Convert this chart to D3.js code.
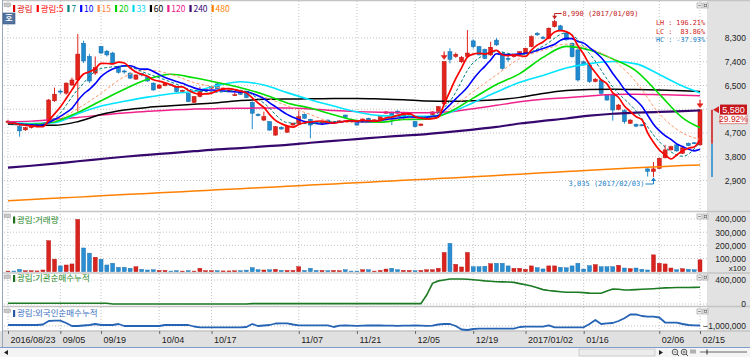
<!DOCTYPE html>
<html>
<head>
<meta charset="utf-8">
<script src="https://cdn.jsdelivr.net/npm/d3@7/dist/d3.min.js"></script>
<style>
html,body{margin:0;padding:0;background:#fff;}
svg{display:block;}
</style>
</head>
<body>
<svg id="chart" width="750" height="357"></svg>
<script>
// ---------------- DATA ----------------
const opens = [5100,5120,4940,4820,4900,4950,4990,5150,5920,6290,
6210,6520,6710,8100,7600,6970,7980,7800,7730,7220,
7050,6970,6740,6950,6830,6590,6400,6490,6550,6460,
6270,6200,5860,6080,6300,6400,6560,6350,6280,6120,
6200,6270,5860,5410,5190,5130,4620,4920,4730,5000,
5070,5410,5220,5130,5080,5190,5100,5130,5380,5220,
5130,5130,5260,5180,5150,5450,5490,5530,5360,5400,
5130,4980,5250,5400,5520,5800,7780,7600,7400,7600,
8190,7970,7870,7660,8220,7720,7530,7590,7660,7720,
7970,8480,8330,8290,8730,8760,8490,8100,7850,7400,
7280,6650,6710,6140,6140,5600,5550,5070,5030,5010,
3340,3240,3360,3760,4060,4250,3930,4310,4330,4250];
const highs = [5200,5150,5000,4930,4990,5020,5100,5990,6420,6350,
6620,6800,8450,8200,7700,7600,8000,7850,7780,7250,
7100,7000,6920,6980,6860,6620,6550,6620,6580,6480,
6340,6220,6100,6450,6360,6480,6620,6420,6350,6250,
6230,6300,5900,5450,5510,5150,4960,4950,4960,5090,
5530,5440,5240,5150,5130,5210,5140,5180,5400,5250,
5150,5250,5280,5220,5340,5520,5510,5560,5470,5450,
5150,5060,5320,5520,5720,7410,7910,7750,7620,8600,
8250,8000,7900,8160,8300,7800,7620,7700,7800,7930,
8400,8530,8380,8700,8990,8800,8520,8130,7900,7450,
7320,6780,6750,6180,6160,5800,5600,5220,5060,5040,
3360,3600,3760,4250,4220,4290,4160,4340,4360,5580];
const lows = [5050,5050,4560,4780,4870,4920,4960,5100,5880,6180,
6150,6480,5510,7350,6600,6900,7700,7600,7300,6950,
6950,6750,6720,6850,6640,6300,6380,6470,6500,6240,
6250,5870,5840,6050,6280,6380,6350,6320,6250,6100,
6150,6020,4850,5330,5150,4790,4600,4830,4710,4980,
5050,5240,4500,5060,5060,5050,5080,5110,5260,5180,
4980,5110,5110,5160,5130,5430,5000,5430,5340,5380,
4920,4960,5230,5380,5500,5750,7340,7550,7350,7580,
7900,7640,7500,7620,8000,7100,7400,7560,7640,7700,
7950,8380,8250,8250,8700,8580,8200,7560,6650,7250,
6600,6620,6150,5920,5170,5560,5050,5040,4920,4950,
3050,3035,3340,3740,4040,3990,3910,4200,4280,4230];
const closes = [5150,5080,4780,4900,4950,4990,5060,5950,6170,6250,
6590,6710,7690,7430,6670,7180,7730,7660,7350,7000,
7020,6780,6900,6900,6670,6330,6520,6590,6530,6270,
6320,5890,6080,6270,6340,6470,6370,6400,6330,6150,
6180,6040,5450,5360,5320,4810,4940,4850,4940,5070,
5320,5260,5000,5080,5110,5070,5120,5160,5280,5200,
5000,5230,5130,5200,5320,5500,5360,5450,5450,5430,
4940,5040,5300,5500,5700,7410,7490,7680,7570,7730,
7970,7660,7530,7950,8040,7150,7490,7680,7780,7910,
8350,8420,8290,8670,8920,8600,8230,7590,6710,7280,
6650,6740,6200,5950,5570,5760,5130,5190,4960,4990,
3250,3340,3740,4060,4180,4020,4140,4220,4295,5580];
const volumes = [5000,5000,18000,8000,8000,6000,13000,236000,95000,44000,
51000,59000,397000,180000,141000,110000,95000,51000,64000,33000,
33000,26000,38000,18000,13000,15000,10000,10000,5000,8000,
5000,8000,5000,26000,8000,8000,8000,6000,6000,7000,
7700,12000,31000,15000,13000,15000,18000,10000,10000,10000,
38000,10000,26000,10000,10000,7700,10000,7700,15000,5000,
5000,15000,15000,5000,10000,20000,26000,15000,10000,10000,
7700,10000,15000,15000,26000,146000,215000,56000,36000,146000,
38000,38000,41000,61000,64000,64000,44000,26000,26000,18000,
44000,31000,21000,44000,44000,34000,30000,44000,64000,20000,
46000,54000,38000,38000,38000,49000,28000,23000,28000,18000,
13000,128000,64000,59000,28000,15000,23000,18000,15000,90000];
const instCum = [12000,12000,12000,12000,12000,12000,12000,12000,12000,12000,
12000,12000,12000,12000,12000,12000,12000,12000,0,0,
0,0,0,0,0,0,0,0,0,0,
0,0,0,0,0,0,0,0,0,0,
0,0,6000,6000,6000,6000,6000,6000,6000,6000,
6000,6000,6000,6000,6000,6000,6000,6000,6000,6000,
6000,6000,6000,6000,6000,6000,6000,6000,6000,6000,
6000,6000,150000,345000,385000,400000,416000,416000,416000,412000,
405000,395000,385000,378000,370000,368000,366000,360000,340000,320000,
300000,270000,240000,225000,215000,205000,195000,195000,195000,190000,
182000,178000,178000,215000,250000,245000,233000,235000,240000,245000,
250000,255000,262000,268000,272000,274000,275000,276000,277000,278000];
const foreignCum = [-960000,-960000,-960000,-960000,-960000,-960000,-940000,-800000,-788000,-788000,
-880000,-1000000,-1000000,-980000,-960000,-920000,-960000,-960000,-960000,-920000,
-1000000,-1000000,-1000000,-1000000,-1000000,-1000000,-1000000,-960000,-960000,-960000,
-960000,-960000,-1020000,-1052000,-1052000,-1052000,-1052000,-1052000,-1052000,-1052000,
-1052000,-1040000,-920000,-1000000,-980000,-960000,-900000,-892000,-892000,-940000,
-972000,-972000,-972000,-972000,-972000,-972000,-1040000,-988000,-980000,-988000,
-996000,-988000,-980000,-972000,-980000,-988000,-988000,-996000,-988000,-988000,
-980000,-988000,-996000,-988000,-940000,-920000,-920000,-1000000,-1140000,-1160000,
-1120000,-1108000,-1108000,-1108000,-1108000,-1108000,-1108000,-1108000,-1040000,-1028000,
-1028000,-1028000,-1028000,-972000,-1052000,-1052000,-1052000,-1052000,-1052000,-1052000,
-920000,-760000,-920000,-892000,-880000,-800000,-692000,-540000,-532000,-600000,
-628000,-628000,-660000,-860000,-868000,-868000,-920000,-960000,-972000,-980000];

// moving averages read at every candle (5, 10) and on a 4-candle grid (others)
const ma5 = [5070,5076,5022,4992,4972,4940,4936,5170,5424,5684,
6004,6334,6682,6934,7018,7136,7340,7334,7318,7384,
7352,7162,7010,6920,6854,6716,6664,6602,6528,6448,
6446,6320,6218,6166,6180,6210,6306,6370,6382,6344,
6286,6220,6030,5836,5670,5396,5176,5056,4972,4922,
5024,5088,5118,5146,5154,5104,5076,5108,5148,5166,
5152,5174,5168,5152,5176,5276,5302,5366,5416,5438,
5326,5262,5232,5242,5296,5790,6280,6756,7170,7576,
7688,7722,7692,7768,7830,7666,7632,7662,7628,7602,
7842,8028,8150,8328,8530,8580,8542,8402,8010,7682,
7292,6994,6716,6564,6222,6044,5722,5520,5322,5206,
4704,4346,4056,3876,3714,3868,4028,4124,4171,4451];
const ma10 = [5060,5063,5036,5021,5011,5005,5006,5096,5208,5328,
5472,5635,5926,6179,6351,6570,6837,7008,7126,7201,
7244,7251,7172,7119,7119,7034,6913,6806,6724,6651,
6581,6492,6410,6347,6314,6328,6313,6294,6274,6262,
6248,6263,6200,6109,6007,5841,5698,5543,5404,5296,
5210,5132,5087,5059,5038,5064,5082,5113,5147,5160,
5128,5125,5138,5150,5171,5214,5238,5267,5284,5307,
5301,5282,5299,5329,5367,5558,5771,5994,6206,6436,
6739,7001,7224,7469,7703,7677,7677,7677,7698,7716,
7754,7830,7906,7978,8066,8211,8285,8276,8169,8106,
7936,7768,7559,7287,6952,6668,6358,6118,5943,5714,
5374,5034,4788,4599,4460,4286,4187,4090,4024,4083];
const maGrid = [0,4,8,12,16,20,24,28,32,36,40,44,48,52,56,60,64,68,72,76,80,84,88,92,96,100,104,108,112,116,119];
const ma7   = [5070,4994,5257,6346,7143,7230,6946,6634,6314,6249,6320,5833,5096,5054,5137,5134,5194,5344,5281,5911,7364,7779,7660,7989,8497,7711,6443,5537,4371,3819,4356];
const ma15  = [5060,5010,5155,5625,6203,6831,7085,6922,6610,6430,6314,6065,5730,5401,5113,5093,5165,5239,5255,5615,6268,6901,7522,7835,8067,7905,7478,6632,5431,4699,4457];
const ma20  = [5060,5030,5129,5481,5922,6358,6735,6925,6791,6613,6415,6161,5839,5644,5390,5169,5105,5216,5219,5505,6020,6535,6952,7565,7981,7845,7509,7056,6174,5273,4898];
const ma33  = [5090,5060,5090,5430,5720,5900,6060,6190,6280,6500,6640,6520,6230,5960,5720,5500,5360,5340,5330,5480,5850,6250,6620,6880,7160,7330,7410,7320,6920,6480,6220];
const ma60  = [5030,5010,4990,5130,5400,5570,5670,5730,5790,5850,5930,5975,5990,5995,6005,6010,5990,5960,5910,5900,5920,5960,6050,6200,6310,6350,6360,6350,6330,6300,6270];
const ma120 = [5130,5150,5220,5290,5380,5460,5520,5575,5605,5625,5635,5650,5645,5610,5550,5510,5485,5475,5465,5505,5620,5750,5880,5980,6040,6105,6160,6165,6150,6130,6110];
const ma240 = [3390,3460,3540,3630,3715,3800,3870,3940,4010,4080,4130,4190,4250,4330,4400,4470,4540,4600,4660,4740,4830,4930,5060,5160,5250,5360,5430,5470,5500,5530,5555];
const ma480 = [2130,2180,2225,2270,2320,2365,2410,2455,2500,2545,2590,2635,2680,2725,2770,2815,2860,2905,2950,2995,3040,3090,3140,3190,3240,3290,3340,3385,3425,3465,3490];

const tickIdx = [0,9,16,26,35,50,60,70,80,89,99,112,119];
const tickLabels = ["2016/08/23","09/05","09/19","10/04","10/17","11/07","11/21","12/05","12/19","2017/01/02","01/16","02/06","02/15"];
const priceGrid = [2900,3800,4700,5600,6500,7400,8300];
const priceLabels = [2900,3800,4700,6500,7400,8300];
const volTicks = [100000,200000,300000,400000];
const instTicks = [0,400000];
const foreignTicks = [-1000000];
const legendLabels = ["광림","광림:5","7","10","15","20","33","60","120","240","480"];
const highMark = {idx:94, value:8990, text:"8,990 (2017/01/09)"};
const lowMark = {idx:111, value:3035, text:"3,035 (2017/02/03)"};
const statTexts = ["LH : 196.21%","LC :  83.86%","HC : -37.93%"];
const lastPrice = 5580, prevClose = 4295, periodLow = 3035, changePct = "29.92%";
const limitUpIdx = [75,119];

// ---------------- STYLE ----------------
const FONT = "'Liberation Sans','Noto Sans CJK KR',Arial,sans-serif";
const KFONT = "'Noto Sans CJK KR','Liberation Sans',sans-serif";
const MONO = "'DejaVu Sans Mono','Liberation Mono',monospace";
const UPF="#e3231c", UPS="#b51410", DNF="#1f8ad0", DNS="#146aa6";
const legendColors = ["#e00000","#ff0000","#008080","#0000ff","#ff8040","#00d000","#00d8f0","#000000","#f0208a","#3a0a78","#ff8000"];

const svg = d3.select("#chart");
const N = closes.length;
const allIdx = d3.range(N);
const x = d3.scaleLinear().domain([0, N-1]).range([8, 700]);
const yP = d3.scaleLinear().domain([2900, 8300]).range([180.5, 38]);
const yV = d3.scaleLinear().domain([0, 400000]).range([271.7, 219]);
const yI = d3.scaleLinear().domain([0, 400000]).range([304, 280]);
const yF = d3.scaleLinear().domain([-1000000, -600000]).range([326, 316]);
const PX0 = 4, PX1 = 707;

// backgrounds
svg.append("rect").attr("x",0).attr("y",0).attr("width",750).attr("height",357).attr("fill","#fff");
svg.append("rect").attr("x",PX1).attr("y",0).attr("width",750-PX1).attr("height",331).attr("fill","#e2e2e2");
svg.append("rect").attr("x",0).attr("y",331).attr("width",750).attr("height",16).attr("fill","#e0e0e0");
svg.append("rect").attr("x",0).attr("y",347.5).attr("width",750).attr("height",10).attr("fill","#f4f4f4");
svg.append("line").attr("x1",0).attr("x2",750).attr("y1",347.5).attr("y2",347.5).attr("stroke","#7d9ccc").attr("stroke-width",1);

// clip paths
const defs = svg.append("defs");
function clip(id,y0,y1){ defs.append("clipPath").attr("id",id).append("rect").attr("x",PX0).attr("y",y0).attr("width",PX1-PX0).attr("height",y1-y0); }
clip("cP",1,211); clip("cV",212,272.5); clip("cI",273.5,306); clip("cF",307,331);

// grid
const grid = svg.append("g").attr("stroke","#b4b4b4").attr("stroke-width",0.8).attr("stroke-dasharray","1,2");
grid.selectAll("line.v").data(tickIdx).join("line").attr("x1",d=>x(d)).attr("x2",d=>x(d)).attr("y1",1).attr("y2",331);
grid.selectAll("line.p").data(priceGrid).join("line").attr("x1",PX0).attr("x2",PX1).attr("y1",d=>yP(d)).attr("y2",d=>yP(d));
grid.selectAll("line.q").data(volTicks).join("line").attr("x1",PX0).attr("x2",PX1).attr("y1",d=>yV(d)).attr("y2",d=>yV(d));
grid.selectAll("line.r").data(instTicks).join("line").attr("x1",PX0).attr("x2",PX1).attr("y1",d=>yI(d)).attr("y2",d=>yI(d));
grid.selectAll("line.s").data(foreignTicks).join("line").attr("x1",PX0).attr("x2",PX1).attr("y1",d=>yF(d)).attr("y2",d=>yF(d));

// separators
[0.5,211.5,273,306.5,331].forEach(y=>{
  svg.append("line").attr("x1",2).attr("x2",750).attr("y1",y).attr("y2",y).attr("stroke","#c4c4c4").attr("stroke-width",1.4);
});
svg.append("line").attr("x1",2.5).attr("x2",2.5).attr("y1",0).attr("y2",347).attr("stroke","#9aa6b8").attr("stroke-width",1);

// candles
const gC = svg.append("g").attr("clip-path","url(#cP)");
const up = i => closes[i] >= opens[i];
gC.selectAll("line.w").data(allIdx).join("line")
  .attr("x1",i=>x(i)).attr("x2",i=>x(i))
  .attr("y1",i=>yP(highs[i])).attr("y2",i=>yP(lows[i]))
  .attr("stroke",i=>up(i)?UPF:DNF).attr("stroke-width",1);
gC.selectAll("rect.b").data(allIdx).join("rect")
  .attr("x",i=>x(i)-2).attr("width",4)
  .attr("y",i=>yP(Math.max(opens[i],closes[i])))
  .attr("height",i=>Math.max(1,Math.abs(yP(opens[i])-yP(closes[i]))))
  .attr("fill",i=>up(i)?UPF:DNF).attr("stroke",i=>up(i)?UPS:DNS).attr("stroke-width",0.5);

// moving averages
const gM = svg.append("g").attr("clip-path","url(#cP)").attr("fill","none");
const maDefs = [
  {v:ma480,ix:maGrid,c:"#ff8000",w:1.5},
  {v:ma240,ix:maGrid,c:"#36086e",w:2.2},
  {v:ma120,ix:maGrid,c:"#f0208a",w:1.5},
  {v:ma60, ix:maGrid,c:"#000000",w:1.5},
  {v:ma33, ix:maGrid,c:"#00e4ff",w:1.6},
  {v:ma20, ix:maGrid,c:"#00dd00",w:1.6},
  {v:ma15, ix:maGrid,c:"#ff9a6a",w:1,d:"3,2"},
  {v:ma10, ix:allIdx,c:"#0000ff",w:1.6},
  {v:ma7,  ix:maGrid,c:"#008080",w:1,d:"3,2"},
  {v:ma5,  ix:allIdx,c:"#ff0000",w:1.7}
];
maDefs.forEach(m=>{
  const ln = d3.line().x((d,k)=>x(m.ix[k])).y(d=>yP(d)).curve(d3.curveMonotoneX);
  gM.append("path").attr("d",ln(m.v)).attr("stroke",m.c).attr("stroke-width",m.w)
    .attr("stroke-dasharray",m.d||null).attr("stroke-linejoin","round");
});

// limit-up markers
const gL = svg.append("g").attr("fill",UPF).attr("stroke",UPF);
limitUpIdx.forEach(i=>{
  const cx = x(i), top = yP(highs[i]);
  gL.append("line").attr("x1",cx).attr("x2",cx).attr("y1",top-10).attr("y2",top-5).attr("stroke-width",1.2);
  gL.append("path").attr("d",`M${cx-3},${top-6}L${cx+3},${top-6}L${cx},${top-2}Z`).attr("stroke-width",0.5);
});

// high / low annotations
{
  const hx = x(highMark.idx), hy = yP(highMark.value);
  const g = svg.append("g");
  g.append("path").attr("d",`M${hx},${hy-1}V13.5H${hx+7}`).attr("fill","none").attr("stroke","#c02020").attr("stroke-width",1);
  g.append("path").attr("d",`M${hx-2.5},${hy-4}L${hx+2.5},${hy-4}L${hx},${hy-0.5}Z`).attr("fill","#c02020");
  g.append("text").attr("x",hx+8).attr("y",13.5).attr("dy","0.35em").text(highMark.text)
    .attr("font-family",MONO).attr("font-size",7).attr("fill","#c02020");
  const lx = x(lowMark.idx), ly = yP(lowMark.value);
  g.append("path").attr("d",`M${lx},${ly+1}V184H${lx-8}`).attr("fill","none").attr("stroke","#1a7fc8").attr("stroke-width",1);
  g.append("path").attr("d",`M${lx-2.5},${ly+4}L${lx+2.5},${ly+4}L${lx},${ly+0.5}Z`).attr("fill","#1a7fc8");
  g.append("text").attr("x",lx-9).attr("y",184).attr("dy","0.35em").attr("text-anchor","end").text(lowMark.text)
    .attr("font-family",MONO).attr("font-size",7).attr("fill","#1a7fc8");
  const sc = ["#d02020","#d02020","#1a7fc8"];
  statTexts.forEach((t,k)=>{
    g.append("text").attr("x",705).attr("y",23+k*8.2).attr("dy","0.35em").attr("text-anchor","end").text(t)
      .attr("font-family",MONO).attr("font-size",6.8).attr("fill",sc[k]).style("white-space","pre");
  });
}

// volume
const gVb = svg.append("g").attr("clip-path","url(#cV)");
gVb.selectAll("rect").data(allIdx).join("rect")
  .attr("x",i=>x(i)-2).attr("width",4)
  .attr("y",i=>yV(volumes[i])).attr("height",i=>yV(0)-yV(volumes[i]))
  .attr("fill",i=>up(i)?"#d9231e":"#2a8fd2").attr("stroke",i=>up(i)?"#b01612":"#1a6aa8").attr("stroke-width",0.4);

// institutional & foreign
svg.append("g").attr("clip-path","url(#cI)").append("path")
  .attr("d",d3.line().x((d,i)=>x(i)).y(d=>yI(d))(instCum))
  .attr("fill","none").attr("stroke","#1b7a23").attr("stroke-width",1.6);
svg.append("g").attr("clip-path","url(#cF)").append("path")
  .attr("d",d3.line().x((d,i)=>x(i)).y(d=>yF(d))(foreignCum))
  .attr("fill","none").attr("stroke","#2563b5").attr("stroke-width",1.8).attr("stroke-linejoin","round");

// right axes
function rightAxis(scale, ticks){
  const g = svg.append("g").attr("transform","translate(746,0)");
  g.call(d3.axisRight(scale).tickValues(ticks).tickSize(0).tickPadding(0).tickFormat(d3.format(",")));
  g.select(".domain").remove();
  g.selectAll("text").attr("x",0).attr("dy","0.35em").attr("text-anchor","end")
    .attr("font-family",FONT).attr("font-size",8.5).attr("fill","#222");
  return g;
}
rightAxis(yP, priceLabels);
rightAxis(yV, volTicks);
rightAxis(yI, instTicks);
rightAxis(yF, foreignTicks);
svg.append("text").attr("x",746).attr("y",268.5).attr("dy","0.35em").attr("text-anchor","end").text("x100")
  .attr("font-family",FONT).attr("font-size",8).attr("fill","#222");

// current price box and range bar
{
  const yl = yP(lastPrice), yc = yP(prevClose), ylo = yP(periodLow);
  svg.append("line").attr("x1",712).attr("x2",712).attr("y1",yl).attr("y2",yc).attr("stroke","#d02020").attr("stroke-width",1.6);
  svg.append("line").attr("x1",712).attr("x2",712).attr("y1",yc).attr("y2",ylo).attr("stroke","#2a8fd2").attr("stroke-width",1.6);
  svg.append("path").attr("d",`M713,${yl}L719,${yl-3.5}L719,${yl+3.5}Z`).attr("fill","#d02020");
  svg.append("rect").attr("x",720).attr("y",yl-5.2).attr("width",27).attr("height",10).attr("fill","#c4161c");
  svg.append("text").attr("x",733.5).attr("y",yl).attr("dy","0.35em").attr("text-anchor","middle").text(d3.format(",")(lastPrice))
    .attr("font-family",FONT).attr("font-size",9).attr("fill","#fff");
  svg.append("rect").attr("x",720).attr("y",yl+5).attr("width",27).attr("height",9).attr("fill","#fff").attr("stroke","#d04040").attr("stroke-width",0.6);
  svg.append("text").attr("x",733.5).attr("y",yl+9.6).attr("dy","0.35em").attr("text-anchor","middle").text(changePct)
    .attr("font-family",FONT).attr("font-size",8.5).attr("fill","#d02020");
}

// bottom axis
{
  const g = svg.append("g").attr("transform","translate(0,331)");
  g.call(d3.axisBottom(x).tickValues(tickIdx).tickSize(3).tickFormat((d,i)=>tickLabels[i]));
  g.select(".domain").remove();
  g.selectAll(".tick line").attr("stroke","#666");
  g.selectAll("text").attr("x",2).attr("y",12).attr("dy",0).attr("text-anchor","start")
    .attr("font-family",FONT).attr("font-size",9).attr("fill","#222");
}

// legend (price panel title)
{
  const g = svg.append("g");
  let cx = 13;
  legendLabels.forEach((t,k)=>{
    g.append("rect").attr("x",cx).attr("y",5).attr("width",2.2).attr("height",7).attr("fill",legendColors[k]);
    const tx = g.append("text").attr("x",cx+4).attr("y",8.8).attr("dy","0.35em").text(t)
      .attr("font-family",KFONT).attr("font-size",8.5).attr("fill",legendColors[k]);
    cx += 4 + tx.node().getComputedTextLength() + 4;
  });
}
// panel titles
function panelTitle(t, y, c, mc){
  svg.append("rect").attr("x",13).attr("y",y-3.5).attr("width",2.2).attr("height",7).attr("fill",mc);
  svg.append("text").attr("x",17).attr("y",y).attr("dy","0.35em").text(t)
    .attr("font-family",KFONT).attr("font-size",8.5).attr("fill",c);
}
panelTitle("광림:거래량",220,"#2a8a2a","#1d6e1d");
panelTitle("광림:기관순매수누적",278.5,"#2a8a2a","#1d6e1d");
panelTitle("광림:외국인순매수누적",313.5,"#3a6fc0","#2a58a8");

// handle icons and panel buttons
[3,214,275,309].forEach(y=>{
  svg.append("rect").attr("x",4).attr("y",y).attr("width",6.5).attr("height",3.5).attr("fill","#c9c9c9").attr("stroke","#9a9a9a").attr("stroke-width",0.5);
  svg.append("rect").attr("x",697).attr("y",y).attr("width",5).attr("height",5).attr("fill","#eee").attr("stroke","#999").attr("stroke-width",0.6);
  svg.append("line").attr("x1",698.2).attr("x2",700.8).attr("y1",y+2.5).attr("y2",y+2.5).attr("stroke","#666").attr("stroke-width",0.7);
  svg.append("rect").attr("x",703).attr("y",y).attr("width",5).attr("height",5).attr("fill","#eee").attr("stroke","#999").attr("stroke-width",0.6);
  svg.append("rect").attr("x",704.3).attr("y",y+1.3).attr("width",2.4).attr("height",2.4).attr("fill","none").attr("stroke","#666").attr("stroke-width",0.6);
});
// "호" box
svg.append("rect").attr("x",3).attr("y",13).attr("width",12).attr("height",11).attr("fill","#52739f").attr("stroke","#3b5a84").attr("stroke-width",0.6);
svg.append("text").attr("x",9).attr("y",18.5).attr("dy","0.35em").attr("text-anchor","middle").text("호")
  .attr("font-family",KFONT).attr("font-size",8).attr("font-weight","bold").attr("fill","#fff");

// scrollbar row
svg.append("path").attr("d","M4,352.5L8,350L8,355Z").attr("fill","#222");
svg.append("rect").attr("x",579).attr("y",349).attr("width",76).attr("height",7).attr("fill","#ececec").attr("stroke","#b8b8b8").attr("stroke-width",0.6);
svg.append("path").attr("d","M659,350L663,352.5L659,355Z").attr("fill","#222");
[[675,"-"],[684,"+"]].forEach(([cx,s])=>{
  svg.append("circle").attr("cx",cx).attr("cy",352).attr("r",2.8).attr("fill","none").attr("stroke","#333").attr("stroke-width",0.8);
  svg.append("line").attr("x1",cx+2).attr("x2",cx+4).attr("y1",354).attr("y2",356).attr("stroke","#333").attr("stroke-width",0.9);
  svg.append("line").attr("x1",cx-1.4).attr("x2",cx+1.4).attr("y1",352).attr("y2",352).attr("stroke","#333").attr("stroke-width",0.6);
  if(s==="+") svg.append("line").attr("x1",cx).attr("x2",cx).attr("y1",350.6).attr("y2",353.4).attr("stroke","#333").attr("stroke-width",0.6);
});
[691,693,695].forEach(px=>svg.append("line").attr("x1",px).attr("x2",px).attr("y1",349.5).attr("y2",353.5).attr("stroke","#333").attr("stroke-width",0.7));
svg.append("line").attr("x1",700).attr("x2",747).attr("y1",352).attr("y2",352).attr("stroke","#444").attr("stroke-width",0.8);
svg.append("line").attr("x1",707).attr("x2",707).attr("y1",349.5).attr("y2",354.5).attr("stroke","#222").attr("stroke-width",1);
</script>
</body>
</html>
